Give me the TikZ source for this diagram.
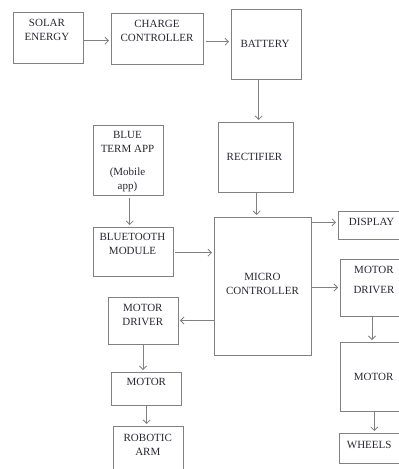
\documentclass[tikz,border=0pt]{standalone}
\usepackage{fontspec}
\setmainfont{Liberation Serif}
\usetikzlibrary{arrows.meta}
\definecolor{edge}{RGB}{128,128,128}
\definecolor{ink}{RGB}{40,40,50}
\tikzset{
  box/.style={draw=edge, line width=0.95pt, rectangle, inner sep=0pt},
  txt/.style={text=ink, align=center, inner sep=0pt, font=\fontsize{11}{14}\selectfont},
  arr/.style={draw=edge, line width=0.85pt, -{Straight Barb[length=3.5pt,width=7pt]}, shorten >=1.5pt}
}
\begin{document}
\begin{tikzpicture}[x=1pt,y=-1pt]
\useasboundingbox (0,0) rectangle (399,469);
\fill[white] (0,0) rectangle (399,469);
\clip (0,0) rectangle (399,469);
% boxes
\node[box, minimum width=70pt, minimum height=51pt] (solar) at (48,37.5) {};
\node[box, minimum width=92pt, minimum height=51pt] (charge) at (157,38.5) {};
\node[box, minimum width=70pt, minimum height=70pt] (battery) at (266,44) {};
\node[box, minimum width=75pt, minimum height=70pt] (rectifier) at (255.5,157) {};
\node[box, minimum width=97pt, minimum height=138pt] (micro) at (262.5,286) {};
\node[box, minimum width=67pt, minimum height=28pt] (display) at (371.5,225) {};
\node[box, minimum width=64pt, minimum height=57pt] (mdR) at (372,287.5) {};
\node[box, minimum width=65pt, minimum height=69pt] (motorR) at (372.5,376.5) {};
\node[box, minimum width=63pt, minimum height=30pt] (wheels) at (370.5,448) {};
\node[box, minimum width=70pt, minimum height=70pt] (blue) at (128,160) {};
\node[box, minimum width=80pt, minimum height=49pt] (bt) at (133,251.5) {};
\node[box, minimum width=70pt, minimum height=47pt] (mdL) at (143,320.5) {};
\node[box, minimum width=70pt, minimum height=33pt] (motorL) at (146,388.5) {};
\node[box, minimum width=70pt, minimum height=54pt] (robotic) at (148,453) {};
% texts
\node[txt] (tsolar) at (47,29.5) {SOLAR\\ENERGY};
\node[txt] (tcharge) at (157,31) {CHARGE\\CONTROLLER};
\node[txt] (tbattery) at (265,43.5) {BATTERY};
\node[txt] (trect) at (254.5,156.7) {RECTIFIER};
\node[txt] (tblue1) at (127.5,142) {BLUE\\TERM APP};
\node[txt] (tblue2) at (127.5,180.3) {(Mobile\\app)};
\node[txt] (tbt) at (132.5,243.7) {BLUETOOTH\\MODULE};
\node[txt] (tmicro) at (262.5,284) {MICRO\\CONTROLLER};
\node[txt] (tdisplay) at (371.7,222) {DISPLAY};
\node[txt] (tmdR1) at (374,269.5) {MOTOR};
\node[txt] (tmdR2) at (374,289.5) {DRIVER};
\node[txt] (tmotorR) at (373.7,376.5) {MOTOR};
\node[txt] (twheels) at (369.2,444.5) {WHEELS};
\node[txt] (tmdL) at (142.8,315) {MOTOR\\DRIVER};
\node[txt] (tmotorL) at (146.3,381.5) {MOTOR};
\node[txt] (trobotic) at (147.8,444.5) {ROBOTIC\\ARM};
% connectors
\draw[arr] ([yshift=-3.2pt]solar.east) -- ([yshift=-3.2pt]solar.east -| charge.west);
\draw[arr] ([yshift=-3.2pt,xshift=3pt]charge.east) -- ([yshift=-3.2pt]charge.east -| battery.west);
\draw[arr] ([xshift=-7.3pt]battery.south) -- ([xshift=-7.3pt]battery.south |- rectifier.north);
\draw[arr] ([xshift=1.2pt]rectifier.south) -- ([xshift=1.2pt]rectifier.south |- micro.north);
\draw[arr] ([yshift=2.7pt]display.west -| micro.east) -- ([yshift=2.7pt]display.west);
\draw[arr] (mdR.west -| micro.east) -- (mdR.west);
\draw[arr] (mdR.south) -- (mdR.south |- motorR.north);
\draw[arr] ([xshift=1.8pt]motorR.south) -- ([xshift=1.8pt]motorR.south |- wheels.north);
\draw[arr] ([xshift=1.7pt,yshift=-3pt]blue.south) -- ([xshift=1.7pt]blue.south |- bt.north);
\draw[arr] ([xshift=2pt,yshift=-1.2pt]bt.east) -- ([yshift=-1.2pt]bt.east -| micro.west);
\draw[arr] (mdL.east -| micro.west) -- (mdL.east);
\draw[arr] (mdL.south) -- (mdL.south |- motorL.north);
\draw[arr] ([xshift=0.7pt]motorL.south) -- ([xshift=0.7pt]motorL.south |- robotic.north);
\end{tikzpicture}
\end{document}
